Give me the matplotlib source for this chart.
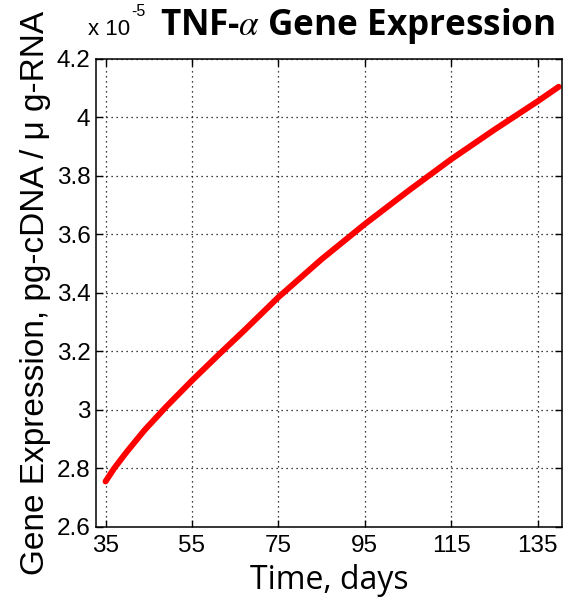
import numpy as np
import matplotlib
matplotlib.use("Agg")
import matplotlib.pyplot as plt
from matplotlib.ticker import FormatStrFormatter

# values (expression in units of 1e-5)
days = [35, 37, 40, 44, 49, 55, 61, 67, 75, 85, 95, 105, 115, 125, 135, 139.9]
expr_e5 = [2.755, 2.80, 2.858, 2.93, 3.01, 3.10, 3.186, 3.27, 3.385, 3.515,
           3.635, 3.748, 3.857, 3.958, 4.055, 4.105]
xticks = [35, 55, 75, 95, 115, 135]
yticks = [2.6, 2.8, 3.0, 3.2, 3.4, 3.6, 3.8, 4.0, 4.2]

plt.rcParams['mathtext.fontset'] = 'stix'

fig = plt.figure(figsize=(5.65, 6.02), dpi=100)
ax = fig.add_axes([0.170, 0.125, 0.825, 0.777])

ax.plot(days, expr_e5, color='red', linewidth=4.3, solid_capstyle='round',
        solid_joinstyle='round')

ax.set_xlim(32.8, 140.7)
ax.set_ylim(2.6, 4.2)
ax.set_xticks(xticks)
ax.set_yticks(yticks)
ax.yaxis.set_major_formatter(FormatStrFormatter('%g'))
ax.grid(True, color='black', linestyle=(0, (1, 3)), linewidth=0.9)
ax.tick_params(direction='in', top=True, right=True, length=5, width=1,
               labelsize=17.5)
ax.tick_params(axis='x', pad=6)
ax.tick_params(axis='y', pad=4)
for lbl in ax.get_xticklabels() + ax.get_yticklabels():
    lbl.set_fontfamily('Liberation Sans')
for sp in ax.spines.values():
    sp.set_linewidth(1.1)

ax.set_xlabel('Time, days', fontsize=23, family='Open Sans', labelpad=5)
ax.set_ylabel('Gene Expression, pg-cDNA / \u03bc g-RNA', fontsize=24,
              family='Liberation Sans', labelpad=4)

# MATLAB-style exponent label
fig.text(0.156, 0.942, 'x 10', fontsize=16, family='Liberation Sans',
         va='baseline')
fig.text(0.232, 0.974, '-5', fontsize=11.5, family='Liberation Sans',
         va='baseline')
fig.text(0.982, 0.942, r'TNF-$\alpha$ Gene Expression', fontsize=25.3,
         family='Open Sans', weight='bold', ha='right', va='baseline')

fig.savefig('out.png', dpi=100)
